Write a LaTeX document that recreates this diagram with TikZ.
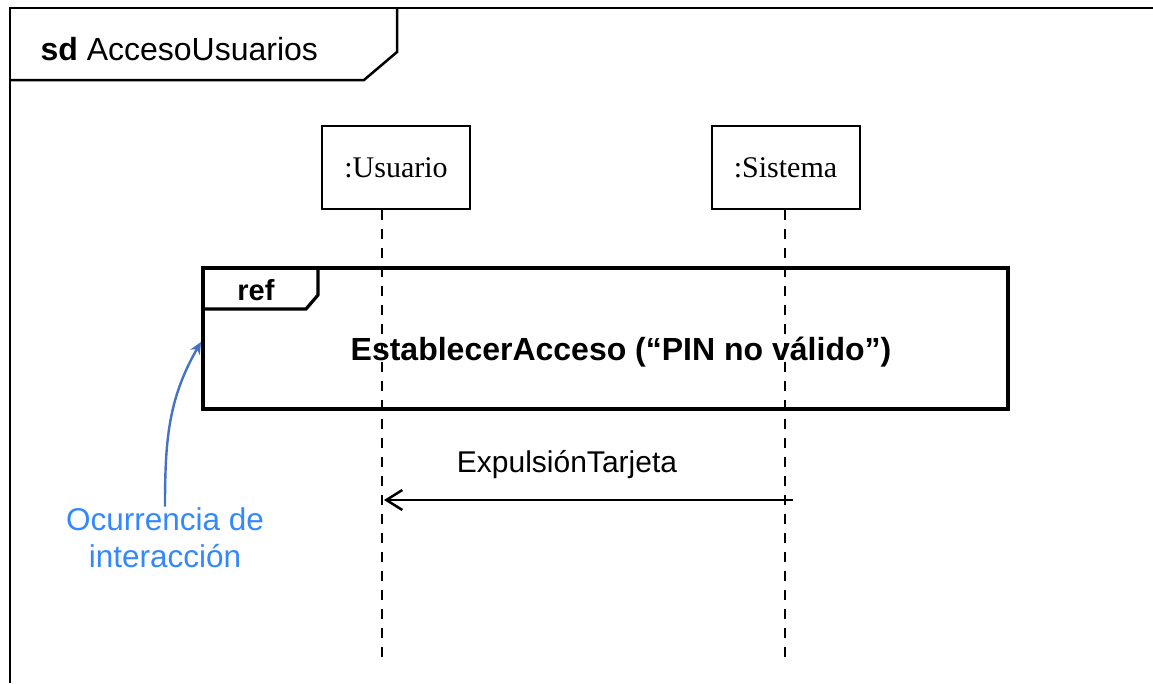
\documentclass[tikz,border=0pt]{standalone}
\usepackage{fontspec}
\setmainfont{Liberation Sans}
\newfontfamily\timesfont{Liberation Serif}
\usetikzlibrary{arrows.meta, positioning, calc}
\definecolor{noteblue}{RGB}{51, 136, 255}
\definecolor{arrowblue}{RGB}{68, 114, 196}
\tikzstyle{frameline} = [draw, line width=2.5pt]
\tikzstyle{lifebox} = [draw, line width=2pt, minimum width=148pt, minimum height=83pt, font=\timesfont\fontsize{30}{32}\selectfont]
\tikzstyle{lifeline} = [draw, line width=2.6pt, dash pattern=on 10pt off 9pt]
\tikzstyle{refline} = [draw, line width=4pt]
\tikzstyle{message} = [draw, -{Straight Barb[length=16pt, width=20pt, line width=2.5pt]}, line width=2.5pt]
\tikzstyle{noteline} = [draw, -{Stealth[length=12pt, width=11pt]}, line width=2.4pt, arrowblue]

\begin{document}
\begin{tikzpicture}[x=1pt, y=-1pt]
    \useasboundingbox (0,0) rectangle (1153,683);

    % outer frame and title
    \draw [frameline] (10,683) -- (10,8) -- (1153,8);
    \draw [frameline] (10,80) -- (364,80) -- (397,52) -- (397,8);
    \node (title) [anchor=west, font=\fontsize{32}{34}\selectfont] at (37,49) {\textbf{sd} AccesoUsuarios};

    % lifelines
    \node (usuario) [lifebox] at (396,167.5) {:Usuario};
    \node (sistema) [lifebox] at (785.5,167.5) {:Sistema};
    \coordinate (usuarioend) at (382,662);
    \coordinate (sistemaend) at (785,662);
    \draw [lifeline] (usuario.south -| usuarioend) -- (usuarioend);
    \draw [lifeline] (sistema.south -| sistemaend) -- (sistemaend);

    % interaction use
    \node (refbox) [refline, minimum width=805pt, minimum height=141pt] at (605.5,338.5) {};
    \draw [refline, line width=3.2pt] ($(refbox.north west)+(117,0)$) -- ++(0,29) -- ++(-12,14) -- ($(refbox.north west)+(0,43)$);
    \node (reflabel) [font=\bfseries\fontsize{29}{31}\selectfont] at (256,290) {ref};
    \node (refname) [font=\bfseries\fontsize{32}{34}\selectfont] at (621,352) {EstablecerAcceso (“PIN no válido”)};

    % message
    \coordinate (msgstart) at (793,500);
    \coordinate (msgend) at (384,500);
    \draw [message] (msgstart) -- (msgend);
    \node (msglabel) [font=\fontsize{30}{32}\selectfont] at (567,465) {ExpulsiónTarjeta};

    % note
    \node (note) [text=noteblue, align=center, inner sep=1pt, font=\fontsize{31.5}{37}\selectfont] at (165,538) {Ocurrencia de\\interacción};
    \coordinate (refside) at (201,342);
    \draw [noteline] (note.north) to [out=90, in=240] (refside);
\end{tikzpicture}
\end{document}
